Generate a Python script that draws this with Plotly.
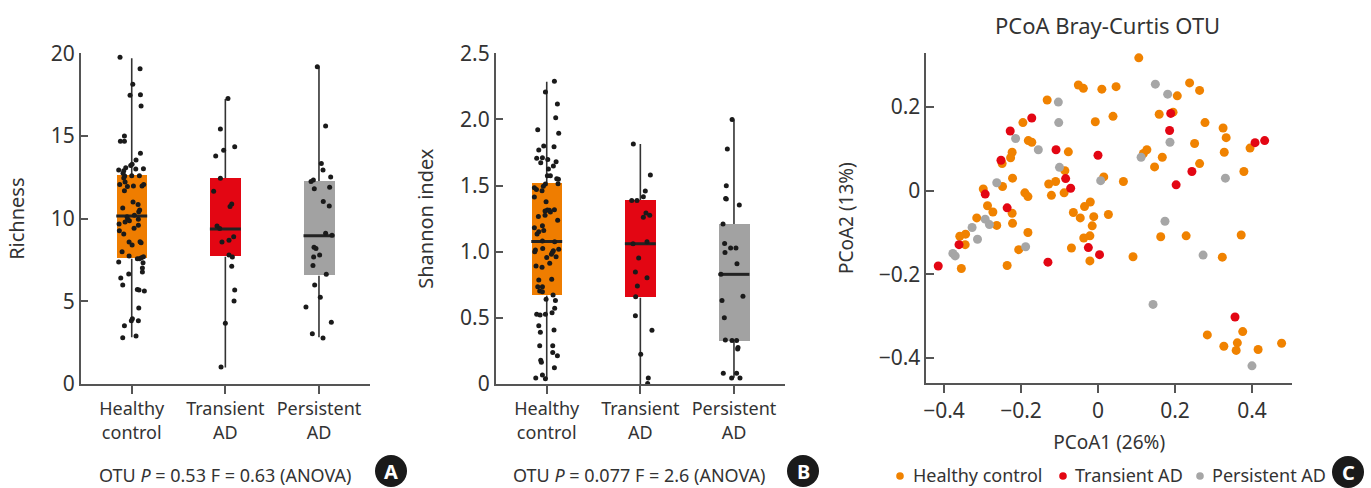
import plotly.graph_objects as go

W, H = 1371, 488
FONT = "Noto Sans"
TXT = "#333333"
AX = "#555555"

groups = ["Healthy control", "Transient AD", "Persistent AD"]
tick_text = ["Healthy<br>control", "Transient<br>AD", "Persistent<br>AD"]
box_colors = ["#EF7D00", "#E30613", "#A2A2A2"]
dot_colors = ["#F08200", "#E30613", "#A6A6A6"]

# ---- Panel A: Richness box stats (low whisker, q1, median, q3, high whisker)
rich_lo = [2.82, 1.0, 2.82]
rich_q1 = [7.58, 7.7, 6.55]
rich_med = [10.16, 9.37, 8.97]
rich_q3 = [12.64, 12.46, 12.28]
rich_hi = [19.7, 17.24, 19.2]

rich_hc = [19.76, 19.07, 18.13, 17.46, 17.50, 16.81, 15.00, 14.68, 14.68, 13.95, 13.55, 13.21, 13.29,
           13.08, 12.94, 12.90, 13.02, 13.00, 12.74, 12.58, 12.46, 12.60, 12.60, 12.06, 12.22, 11.94,
           11.98, 11.98, 12.06, 11.69, 11.01, 10.85, 10.52, 10.42, 10.65, 10.20, 10.12, 9.96, 9.96,
           9.80, 9.88, 9.68, 9.42, 9.60, 9.27, 9.07, 8.59, 8.41, 8.55, 8.61, 8.00, 7.74, 7.58, 7.58,
           7.64, 7.70, 7.34, 7.02, 6.77, 7.38, 6.41, 6.65, 5.99, 5.71, 5.69, 5.62, 4.60, 3.95, 3.83,
           3.83, 3.53, 2.80, 2.90]
rich_hc_jit = [-0.125, 0.089, 0.011, -0.018, 0.093, 0.100, -0.078, -0.121, -0.078, 0.093, 0.046, -0.011,
               0.004, -0.064, -0.139, -0.085, 0.125, 0.043, -0.093, -0.075, -0.085, 0.000, 0.082, -0.128,
               -0.071, -0.046, 0.018, 0.110, 0.128, -0.078, 0.014, 0.068, 0.085, 0.075, -0.096, 0.028,
               -0.050, -0.043, 0.071, -0.071, -0.025, -0.135, 0.025, 0.071, -0.132, -0.085, -0.028, 0.004,
               0.100, 0.089, -0.103, -0.028, 0.060, 0.082, 0.103, 0.125, 0.121, 0.114, 0.114, -0.139,
               -0.117, -0.032, -0.096, 0.060, 0.078, 0.135, 0.075, 0.007, -0.004, 0.071, -0.078, -0.096,
               0.046]
rich_tr = [17.26, 15.42, 14.35, 14.13, 13.79, 12.44, 11.65, 10.89, 10.73, 9.56, 9.40, 8.91, 8.59, 8.69,
           7.80, 7.68, 7.12, 5.69, 5.02, 3.67, 1.03]
rich_tr_jit = [0.028, -0.053, 0.100, -0.018, -0.103, -0.053, -0.125, 0.068, 0.050, -0.089, -0.060, 0.089,
               -0.036, 0.039, 0.039, 0.075, 0.068, 0.100, 0.093, 0.000, -0.046]
rich_pe = [19.19, 15.60, 13.33, 12.94, 12.52, 12.34, 12.24, 11.81, 11.90, 11.03, 10.77, 9.11, 8.99, 8.27,
           8.20, 7.80, 7.68, 7.16, 6.63, 5.99, 5.24, 4.66, 3.73, 3.04, 2.78]
rich_pe_jit = [-0.018, 0.071, 0.025, 0.043, 0.125, -0.060, -0.085, -0.050, 0.114, 0.046, 0.110, 0.071,
               0.139, -0.053, -0.032, 0.007, -0.057, -0.064, 0.078, -0.046, 0.014, -0.139, 0.132, -0.071,
               0.043]

# ---- Panel B: Shannon index
shan_lo = [0.038, 0.0, 0.048]
shan_q1 = [0.668, 0.652, 0.32]
shan_med = [1.078, 1.061, 0.829]
shan_q3 = [1.517, 1.391, 1.209]
shan_hi = [2.285, 1.814, 2.0]

shan_hc = [2.288, 2.207, 2.116, 2.013, 1.922, 1.895, 1.799, 1.794, 1.769, 1.706, 1.711, 1.698, 1.673,
           1.681, 1.648, 1.625, 1.575, 1.575, 1.552, 1.547, 1.514, 1.512, 1.494, 1.484, 1.471, 1.461,
           1.413, 1.378, 1.315, 1.308, 1.313, 1.318, 1.300, 1.267, 1.275, 1.237, 1.197, 1.182, 1.161,
           1.151, 1.134, 1.081, 1.076, 1.013, 1.025, 1.000, 1.018, 1.008, 0.995, 0.980, 0.962, 0.957,
           0.912, 0.892, 0.882, 0.791, 0.786, 0.736, 0.736, 0.703, 0.698, 0.673, 0.640, 0.632, 0.572,
           0.539, 0.527, 0.522, 0.527, 0.441, 0.391, 0.408, 0.290, 0.290, 0.239, 0.214, 0.179, 0.164,
           0.123, 0.068, 0.045, 0.040]
shan_hc_jit = [0.082, -0.014, 0.114, 0.096, -0.096, 0.128, -0.032, 0.078, -0.085, -0.107, -0.046, 0.011,
               -0.064, 0.100, 0.071, 0.018, 0.007, 0.039, 0.107, 0.125, 0.121, -0.014, -0.036, -0.132,
               -0.110, -0.050, -0.132, -0.007, 0.007, -0.018, 0.028, 0.082, 0.039, -0.089, -0.018, 0.117,
               -0.046, -0.132, -0.032, -0.085, -0.103, -0.046, 0.085, -0.121, -0.043, -0.128, 0.128, 0.071,
               0.060, 0.050, 0.100, 0.000, 0.032, -0.114, -0.050, 0.053, -0.085, -0.096, -0.046, -0.075,
               -0.046, 0.068, -0.007, 0.093, 0.085, 0.057, -0.107, -0.071, -0.014, -0.085, -0.068, 0.078,
               -0.075, 0.064, 0.064, 0.114, -0.064, -0.057, 0.082, -0.046, -0.117, -0.014]
shan_tr = [1.814, 1.580, 1.459, 1.416, 1.388, 1.388, 1.293, 1.275, 1.260, 1.061, 1.076, 0.952, 0.847,
           0.804, 0.741, 0.660, 0.516, 0.406, 0.224, 0.045, 0.003]
shan_tr_jit = [-0.075, 0.107, 0.053, 0.032, -0.092, -0.036, 0.060, 0.100, 0.032, -0.078, 0.071, -0.018,
               -0.053, 0.071, -0.032, -0.050, -0.053, 0.124, 0.004, 0.085, 0.078]
shan_pe = [2.000, 1.776, 1.499, 1.403, 1.398, 1.353, 1.209, 1.063, 1.028, 1.028, 0.995, 0.910, 0.829,
           0.663, 0.632, 0.501, 0.333, 0.328, 0.328, 0.275, 0.265, 0.081, 0.081, 0.045, 0.045]
shan_pe_jit = [-0.020, -0.071, -0.082, -0.089, -0.082, 0.057, -0.117, -0.100, -0.036, 0.021, -0.096, 0.032,
               -0.139, 0.096, -0.128, -0.103, -0.092, -0.021, 0.028, 0.043, 0.039, -0.114, 0.028, -0.025,
               0.064]

# ---- Panel C: PCoA Bray-Curtis coordinates
pc_hc_x = [0.106, -0.051, -0.038, 0.010, 0.047, -0.132, 0.039, -0.007, -0.195, 0.238, 0.264, 0.206, 0.159,
           0.195, 0.278, 0.325, 0.333, 0.395, 0.251, 0.328, 0.264, 0.379, 0.127, 0.118, 0.167, 0.147,
           0.066, 0.015, -0.181, -0.172, -0.223, -0.227, -0.249, -0.222, -0.248, -0.298, -0.190, -0.182,
           -0.128, -0.110, -0.121, -0.077, -0.086, -0.088, -0.287, -0.273, -0.223, -0.315, -0.263, -0.222,
           -0.359, -0.344, -0.345, -0.182, -0.206, -0.236, -0.355, -0.064, -0.046, -0.020, -0.035, -0.011,
           -0.015, -0.021, -0.037, 0.027, -0.069, -0.021, 0.091, 0.163, 0.229, 0.372, 0.323, 0.284, 0.327,
           0.362, 0.376, 0.359, 0.416, 0.477]
pc_hc_y = [0.318, 0.253, 0.245, 0.243, 0.249, 0.217, 0.178, 0.165, 0.163, 0.258, 0.240, 0.227, 0.183,
           0.188, 0.163, 0.150, 0.127, 0.102, 0.113, 0.092, 0.065, 0.046, 0.098, 0.089, 0.080, 0.057,
           0.022, 0.033, 0.120, 0.116, 0.092, 0.079, 0.065, 0.030, 0.010, 0.004, -0.005, -0.014, 0.016,
           0.022, -0.011, 0.093, 0.048, -0.005, -0.036, -0.051, -0.054, -0.065, -0.083, -0.078, -0.109,
           -0.104, -0.129, -0.100, -0.141, -0.179, -0.186, -0.052, -0.065, -0.027, -0.038, -0.062, -0.084,
           -0.108, -0.113, -0.057, -0.137, -0.168, -0.158, -0.110, -0.108, -0.106, -0.159, -0.345, -0.372,
           -0.364, -0.337, -0.382, -0.380, -0.365]
pc_tr_x = [-0.172, -0.228, -0.252, -0.109, 0.000, -0.084, -0.071, -0.293, -0.236, -0.361, -0.415, -0.130,
           -0.025, 0.004, 0.189, 0.186, 0.244, 0.203, 0.408, 0.433, 0.356]
pc_tr_y = [0.174, 0.143, 0.073, 0.098, 0.085, 0.029, 0.006, -0.008, -0.041, -0.129, -0.180, -0.171,
           -0.136, -0.153, 0.185, 0.144, 0.046, 0.014, 0.115, 0.120, -0.302]
pc_pe_x = [0.210, 0.149, 0.181, -0.103, -0.102, -0.214, 0.187, -0.155, -0.100, 0.112, -0.263, 0.007,
           0.331, -0.293, -0.282, -0.327, -0.313, -0.188, -0.377, -0.371, 0.174, 0.273, 0.143, 0.400]
pc_pe_y = [0.341, 0.255, 0.231, 0.212, 0.163, 0.125, 0.116, 0.098, 0.056, 0.080, 0.019, 0.024, 0.030,
           -0.068, -0.081, -0.088, -0.116, -0.134, -0.150, -0.156, -0.073, -0.154, -0.272, -0.419]

BOX_W = 0.33


def px(x):
    return x / W


def py(y):
    return 1 - y / H


fig = go.Figure()


def box_panel(xa, ya, lo, q1, med, q3, hi, pts, jits):
    cats = list(range(len(groups)))
    fig.add_trace(go.Bar(x=cats, y=[b - a for a, b in zip(q1, q3)], base=q1, width=BOX_W,
                         marker=dict(color=box_colors, line=dict(width=0)),
                         xaxis=xa, yaxis=ya, showlegend=False, hoverinfo="skip"))
    for i in cats:
        fig.add_trace(go.Scatter(x=[i, i, None, i, i], y=[lo[i], q1[i], None, q3[i], hi[i]],
                                 mode="lines", line=dict(color="#333333", width=1.6),
                                 xaxis=xa, yaxis=ya, showlegend=False, hoverinfo="skip"))
        fig.add_trace(go.Scatter(x=[i - BOX_W / 2, i + BOX_W / 2], y=[med[i], med[i]],
                                 mode="lines", line=dict(color="#222222", width=3),
                                 xaxis=xa, yaxis=ya, showlegend=False, hoverinfo="skip"))
    for i, (vals, jit) in enumerate(zip(pts, jits)):
        fig.add_trace(go.Scatter(x=[i + j for j in jit], y=vals, mode="markers",
                                 marker=dict(color="#1a1a1a", size=5),
                                 xaxis=xa, yaxis=ya, showlegend=False, cliponaxis=False))


box_panel("x", "y", rich_lo, rich_q1, rich_med, rich_q3, rich_hi,
          [rich_hc, rich_tr, rich_pe], [rich_hc_jit, rich_tr_jit, rich_pe_jit])
box_panel("x2", "y2", shan_lo, shan_q1, shan_med, shan_q3, shan_hi,
          [shan_hc, shan_tr, shan_pe], [shan_hc_jit, shan_tr_jit, shan_pe_jit])

for name, xs, ys, col in [(groups[0], pc_hc_x, pc_hc_y, dot_colors[0]),
                          (groups[1], pc_tr_x, pc_tr_y, dot_colors[1]),
                          (groups[2], pc_pe_x, pc_pe_y, dot_colors[2])]:
    fig.add_trace(go.Scatter(x=xs, y=ys, mode="markers", name=name,
                             marker=dict(color=col, size=9), xaxis="x3", yaxis="y3",
                             cliponaxis=False, showlegend=False))

axis_common = dict(showline=True, linecolor=AX, linewidth=1.5, showgrid=False, zeroline=False,
                   ticks="outside", ticklen=8, tickcolor=AX, tickwidth=1.5)
cat_x = dict(axis_common, range=[-0.545, 2.545], tickvals=[0, 1, 2], ticktext=tick_text,
             tickfont=dict(size=18, color=TXT, family=FONT))
yfont = dict(size=21, color=TXT, family=FONT)

fig.update_layout(
    width=W, height=H, margin=dict(l=0, r=0, t=0, b=0, autoexpand=False),
    paper_bgcolor="white", plot_bgcolor="white",
    font=dict(family=FONT, color=TXT),
    bargap=0,
    showlegend=False,
    xaxis=dict(cat_x, domain=[px(80.7), px(370)], anchor="y"),
    yaxis=dict(axis_common, domain=[py(384), py(53.3)], range=[0, 20], anchor="x",
               ticks="inside", tickvals=[0, 5, 10, 15, 20], tickfont=yfont,
               title=dict(text="Richness", font=dict(size=20, color=TXT), standoff=21)),
    xaxis2=dict(cat_x, domain=[px(495.7), px(785)], anchor="y2"),
    yaxis2=dict(axis_common, domain=[py(384), py(53.3)], range=[0, 2.5], anchor="x2",
                ticks="inside", tickvals=[0, 0.5, 1, 1.5, 2, 2.5],
                ticktext=["0", "0.5", "1.0", "1.5", "2.0", "2.5"], tickfont=yfont,
                title=dict(text="Shannon index", font=dict(size=20, color=TXT), standoff=21)),
    xaxis3=dict(axis_common, domain=[px(926.3), px(1292)], range=[-0.446, 0.504], anchor="y3",
                tickvals=[-0.4, -0.2, 0, 0.2, 0.4], tickfont=dict(size=21, color=TXT),
                title=dict(text="PCoA1 (26%)", font=dict(size=19, color=TXT), standoff=12)),
    yaxis3=dict(axis_common, domain=[py(383.4), py(52.8)], range=[-0.461, 0.330], anchor="x3",
                ticks="inside", tickvals=[-0.4, -0.2, 0, 0.2], tickfont=dict(size=21, color=TXT),
                title=dict(text="PCoA2 (13%)", font=dict(size=19, color=TXT), standoff=20)),
)

annotations = [
    dict(text="PCoA Bray-Curtis OTU", x=px(1107), y=py(25), xref="paper", yref="paper",
         showarrow=False, font=dict(size=22, color=TXT), xanchor="center", yanchor="middle"),
    dict(text="OTU <i>P</i> = 0.53 F = 0.63 (ANOVA)", x=px(97), y=py(475), xref="paper", yref="paper",
         showarrow=False, font=dict(size=18, color=TXT), xanchor="left", yanchor="middle"),
    dict(text="OTU <i>P</i> = 0.077 F = 2.6 (ANOVA)", x=px(511), y=py(475), xref="paper", yref="paper",
         showarrow=False, font=dict(size=18, color=TXT), xanchor="left", yanchor="middle"),
]
shapes = []
# legend for panel C (dot + label)
for name, col, dx, tx in [(groups[0], dot_colors[0], 900, 911),
                          (groups[1], dot_colors[1], 1063, 1073),
                          (groups[2], dot_colors[2], 1200, 1210)]:
    r = 3.8
    shapes.append(dict(type="circle", xref="paper", yref="paper", x0=px(dx - r), x1=px(dx + r),
                       y0=py(476 + r), y1=py(476 - r), fillcolor=col, line=dict(width=0)))
    annotations.append(dict(text=name, x=px(tx), y=py(475), xref="paper", yref="paper",
                            showarrow=False, font=dict(size=18, color=TXT),
                            xanchor="left", yanchor="middle"))
for letter, cx, cy in [("A", 391, 471), ("B", 803, 471), ("C", 1348, 472)]:
    r = 16
    shapes.append(dict(type="circle", xref="paper", yref="paper", x0=px(cx - r), x1=px(cx + r),
                       y0=py(cy + r), y1=py(cy - r), fillcolor="#1a1a1a", line=dict(width=0)))
    annotations.append(dict(text="<b>%s</b>" % letter, x=px(cx), y=py(cy), xref="paper", yref="paper",
                            showarrow=False, font=dict(size=20, color="white"),
                            xanchor="center", yanchor="middle"))
fig.update_layout(annotations=annotations, shapes=shapes)

fig.write_html("out.html")
